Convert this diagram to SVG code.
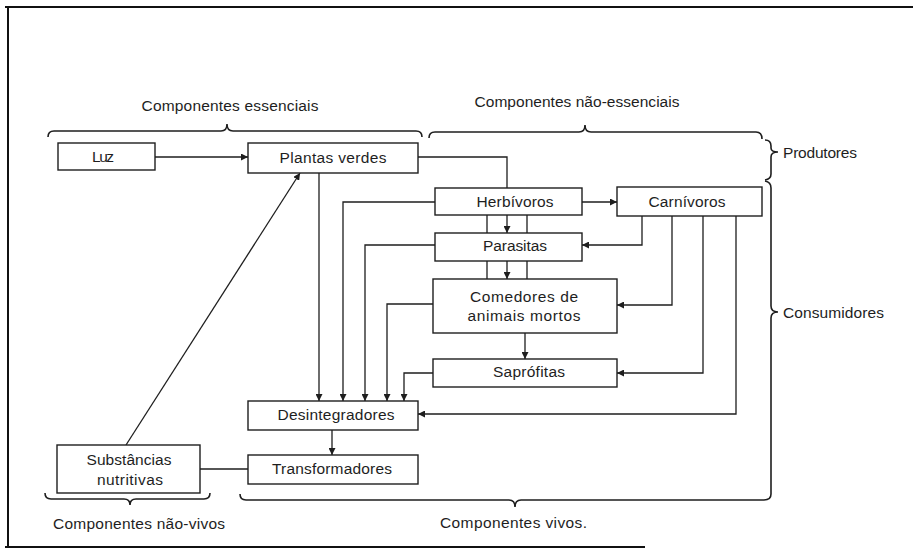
<svg xmlns="http://www.w3.org/2000/svg" width="913" height="551" viewBox="0 0 913 551">
<style>
text{font-family:"Liberation Sans",Arial,sans-serif;font-size:15.5px;fill:#1e1e1e}
.c{text-anchor:middle}
.box{fill:#fff;stroke:#1e1e1e;stroke-width:1.4}
.ln{fill:none;stroke:#1e1e1e;stroke-width:1.3}
.br{fill:none;stroke:#1e1e1e;stroke-width:1.6}
.frame{fill:none;stroke:#111;stroke-width:2}
</style>
<defs>
<marker id="ah" viewBox="0 0 10 10" refX="10" refY="5" markerWidth="7" markerHeight="7" markerUnits="userSpaceOnUse" orient="auto">
<path d="M0,0 L10,5 L0,10 Z" fill="#1e1e1e"/>
</marker>
</defs>
<rect width="913" height="551" fill="#fff"/>
<g id="frame">
<path class="frame" d="M5 7 H913 M8 7 V547 M5 547 H645"/>
</g>
<g id="braces">
<path class="br" d="M48 137 Q48 131 54 131 H221 Q227 131 227 124 Q227 131 233 131 H416 Q422 131 422 137"/>
<path class="br" d="M429 138 Q429 132 435 132 H579 Q585 132 585 125 Q585 132 591 132 H756 Q762 132 762 139"/>
<path class="br" d="M765 140 Q771 140 771 146 V148 Q771 152 778 152 Q771 152 771 157 V174 Q771 179 765 180"/>
<path class="br" d="M765 181 Q771 182 771 188 V306 Q771 312 778 312 Q771 312 771 318 V494 Q771 500 764 500 H521 Q515 500 515 507 Q515 500 509 500 H246 Q240 500 240 494"/>
<path class="br" d="M45 493 Q45 499 51 499 H124 Q130 499 130 505 Q130 499 136 499 H204 Q210 499 210 493"/>
</g>
<g id="labels">
<text x="230" y="111" class="c" textLength="177" lengthAdjust="spacing">Componentes  essenciais</text>
<text x="577" y="107" class="c" textLength="205" lengthAdjust="spacing">Componentes  não-essenciais</text>
<text x="783" y="158" textLength="74" lengthAdjust="spacing">Produtores</text>
<text x="783" y="318" textLength="101" lengthAdjust="spacing">Consumidores</text>
<text x="53" y="529" textLength="172" lengthAdjust="spacing">Componentes  não-vivos</text>
<text x="440" y="528" textLength="147" lengthAdjust="spacing">Componentes  vivos.</text>
</g>
<g id="connectors">
<path class="ln" d="M155 157 H248" marker-end="url(#ah)"/>
<path class="ln" d="M418 157 H507 V188"/>
<path class="ln" d="M582 202 H617" marker-end="url(#ah)"/>
<path class="ln" d="M487 215 V233 M527 215 V233"/>
<path class="ln" d="M507 215 V233" marker-end="url(#ah)"/>
<path class="ln" d="M487 261 V279 M527 261 V279"/>
<path class="ln" d="M507 261 V279" marker-end="url(#ah)"/>
<path class="ln" d="M525 333 V359" marker-end="url(#ah)"/>
<path class="ln" d="M319 173 V401" marker-end="url(#ah)"/>
<path class="ln" d="M435 202 H343 V401" marker-end="url(#ah)"/>
<path class="ln" d="M435 245 H365 V401" marker-end="url(#ah)"/>
<path class="ln" d="M433 304 H387 V401" marker-end="url(#ah)"/>
<path class="ln" d="M433 373 H404 V401" marker-end="url(#ah)"/>
<path class="ln" d="M642 216 V245 H582" marker-end="url(#ah)"/>
<path class="ln" d="M672 216 V305 H617" marker-end="url(#ah)"/>
<path class="ln" d="M703 216 V373 H617" marker-end="url(#ah)"/>
<path class="ln" d="M736 216 V414 H418" marker-end="url(#ah)"/>
<path class="ln" d="M332 430 V455" marker-end="url(#ah)"/>
<path class="ln" d="M200 469 H248"/>
<path class="ln" d="M126 445 L300 173" marker-end="url(#ah)"/>
</g>
<g id="luz">
<rect class="box" x="58" y="143" width="97" height="27"/>
<text x="103" y="162" class="c" textLength="22" lengthAdjust="spacing">Luz</text>
</g>
<g id="plantas-verdes">
<rect class="box" x="248" y="143" width="170" height="30"/>
<text x="333" y="163" class="c" textLength="107" lengthAdjust="spacing">Plantas  verdes</text>
</g>
<g id="herbivoros">
<rect class="box" x="435" y="188" width="147" height="27"/>
<text x="515" y="207" class="c" textLength="77" lengthAdjust="spacing">Herbívoros</text>
</g>
<g id="carnivoros">
<rect class="box" x="617" y="187" width="145" height="29"/>
<text x="687" y="207" class="c" textLength="77" lengthAdjust="spacing">Carnívoros</text>
</g>
<g id="parasitas">
<rect class="box" x="435" y="233" width="147" height="28"/>
<text x="515" y="251" class="c" textLength="64" lengthAdjust="spacing">Parasitas</text>
</g>
<g id="comedores">
<rect class="box" x="433" y="279" width="184" height="54"/>
<text x="524" y="302" class="c" textLength="108" lengthAdjust="spacing">Comedores  de</text>
<text x="524" y="321" class="c" textLength="113" lengthAdjust="spacing">animais  mortos</text>
</g>
<g id="saprofitas">
<rect class="box" x="433" y="359" width="184" height="28"/>
<text x="529" y="377" class="c" textLength="72" lengthAdjust="spacing">Saprófitas</text>
</g>
<g id="desintegradores">
<rect class="box" x="248" y="401" width="170" height="29"/>
<text x="336" y="420" class="c" textLength="117" lengthAdjust="spacing">Desintegradores</text>
</g>
<g id="transformadores">
<rect class="box" x="248" y="455" width="170" height="29"/>
<text x="332" y="474" class="c" textLength="120" lengthAdjust="spacing">Transformadores</text>
</g>
<g id="substancias">
<rect class="box" x="57" y="445" width="143" height="48"/>
<text x="129" y="465" class="c" textLength="85" lengthAdjust="spacing">Substâncias</text>
<text x="130" y="485" class="c" textLength="66" lengthAdjust="spacing">nutritivas</text>
</g>
</svg>
